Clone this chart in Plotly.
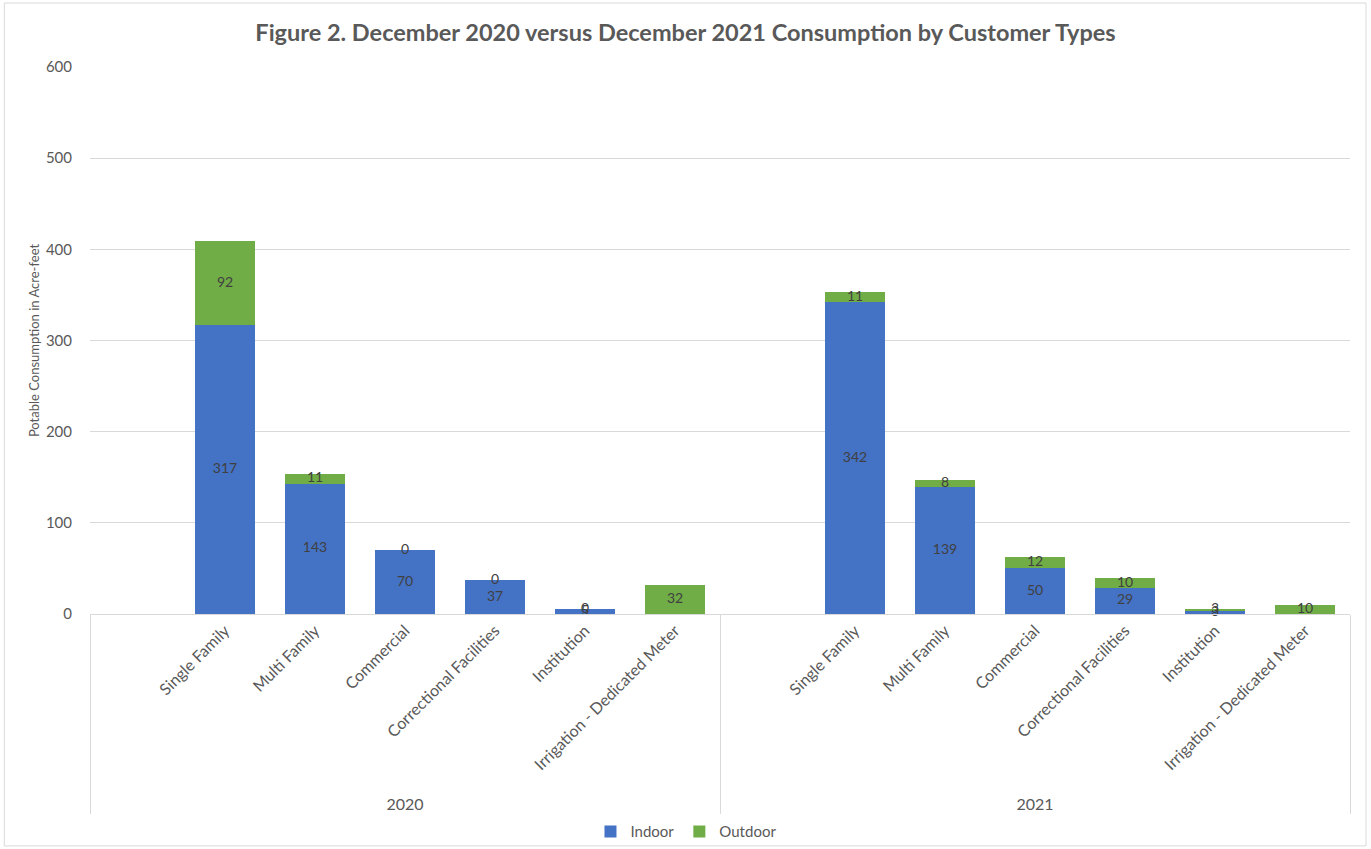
import plotly.graph_objects as go

years = ["2020"] * 7 + ["2021"] * 7
types = [" ", "Single Family", "Multi Family", "Commercial", "Correctional Facilities",
         "Institution", "Irrigation - Dedicated Meter"] * 2
indoor = [None, 317, 143, 70, 37, 5, None, None, 342, 139, 50, 29, 3, None]
outdoor = [None, 92, 11, 0, 0, 0, 32, None, 11, 8, 12, 10, 3, 10]

BLUE = "#4472C4"
GREEN = "#70AD47"
FONT = "Lato, 'Open Sans', sans-serif"
GRAY = "#595959"

x = [years, types]

fig = go.Figure()
fig.add_trace(go.Bar(x=x, y=indoor, name="Indoor", marker_color=BLUE,
                     marker_line_width=0, hoverinfo="y"))
fig.add_trace(go.Bar(x=x, y=outdoor, name="Outdoor", marker_color=GREEN,
                     marker_line_width=0, hoverinfo="y"))

# data labels centred in each segment
ix, iy, it = [[], []], [], []
ox, oy, ot = [[], []], [], []
for yr, tp, a, b in zip(years, types, indoor, outdoor):
    base = a or 0
    if a is not None:
        ix[0].append(yr); ix[1].append(tp); iy.append(a / 2); it.append(str(a))
    if b is not None:
        ox[0].append(yr); ox[1].append(tp); oy.append(base + b / 2); ot.append(str(b))

for xx, yy, tt in [(ix, iy, it), (ox, oy, ot)]:
    fig.add_trace(go.Scatter(x=xx, y=yy, text=tt, mode="text",
                             textfont=dict(size=14, color="#404040", family=FONT),
                             showlegend=False, hoverinfo="skip", cliponaxis=False))

fig.update_layout(
    barmode="stack",
    bargap=0.33,
    width=1371, height=849,
    margin=dict(l=90, r=21, t=67, b=235, autoexpand=False),
    paper_bgcolor="white", plot_bgcolor="white",
    font=dict(family=FONT, color=GRAY, size=14),
    title=dict(text="<b>Figure 2. December 2020 versus December 2021 Consumption by Customer Types</b>",
               x=0.5, xanchor="center", y=0.961, yanchor="middle",
               font=dict(size=23.5, color=GRAY, family=FONT)),
    legend=dict(orientation="h", x=0.473, xanchor="center", y=-0.398, yanchor="middle",
                font=dict(size=15, color=GRAY), traceorder="normal",
                itemwidth=30, bgcolor="rgba(0,0,0,0)"),
    xaxis=dict(type="multicategory", tickangle=-45, showline=True, linecolor="#D9D9D9",
               range=[-0.5, 13.5], autorange=False,
               showdividers=True, dividercolor="#D9D9D9", dividerwidth=1,
               tickfont=dict(size=16, color=GRAY), ticks="", automargin=False),
    yaxis=dict(range=[0, 600], dtick=100, showgrid=True, gridcolor="#D9D9D9",
               zeroline=False, showline=False, ticks="outside", ticklen=14,
               tickcolor="white", tickfont=dict(size=15, color=GRAY), automargin=False,
               title=dict(text="Potable Consumption in Acre-feet",
                          font=dict(size=13, color=GRAY), standoff=3)),
    shapes=[dict(type="rect", xref="paper", yref="paper", x0=-0.068, x1=1.0127,
                 y0=-0.424, y1=1.117, line=dict(color="#D9D9D9", width=1),
                 layer="below")],
)

fig.write_html("out.html", config={"displayModeBar": False},
               post_script="document.body.style.margin='0';document.body.style.overflow='hidden';")
